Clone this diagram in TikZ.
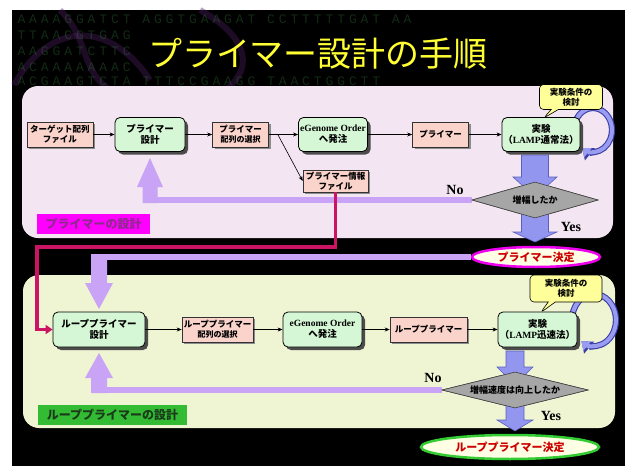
\documentclass[tikz,border=0pt]{standalone}
\usepackage{fontspec}
\setmainfont{Noto Sans CJK JP}
\newfontfamily\lat{Liberation Serif}
\newfontfamily\mono[LetterSpace=30]{Liberation Mono}
\usetikzlibrary{shapes.geometric,shapes.callouts,shadows,arrows.meta,calc}
\definecolor{panelA}{HTML}{F3E5F1}
\definecolor{panelB}{HTML}{EFF5D3}
\definecolor{mint}{HTML}{D6F7D6}
\definecolor{pinkbox}{HTML}{FAD3CB}
\definecolor{calloutY}{HTML}{FFFF99}
\definecolor{loopdark}{HTML}{3A3FA8}
\definecolor{loopfill}{HTML}{9A9CF2}
\definecolor{bluefill}{HTML}{9296EE}
\definecolor{blueedge}{HTML}{5A5FC0}
\definecolor{lav}{HTML}{C9A3F5}
\definecolor{crim}{HTML}{CC1464}
\definecolor{magE}{HTML}{EE00EE}
\definecolor{grnE}{HTML}{33CC33}
\definecolor{ellfill}{HTML}{FFFFE6}
\definecolor{redtxt}{HTML}{CC0000}
\definecolor{dnagreen}{HTML}{2E6B34}
\definecolor{swirl}{HTML}{4B2060}
\definecolor{magLbl}{HTML}{FF00FF}
\definecolor{magTxt}{HTML}{8E2A8E}
\definecolor{grnLbl}{HTML}{33BB33}
\definecolor{grnTxt}{HTML}{1A3A1A}
\definecolor{titleY}{HTML}{FFFF33}
\newcommand\barrow[7][]{\draw[#1] ({#2-#4},#3) -- ({#2+#4},#3) -- ({#2+#4},#5) -- ({#2+#6},#5) -- (#2,#7) -- ({#2-#6},#5) -- ({#2-#4},#5) -- cycle;}
\begin{document}
\begin{tikzpicture}[x=1pt,y=-1pt,
 gbox/.style={draw=black, line width=0.8pt, fill=mint, rounded corners=5pt, align=center, inner sep=1pt,
   font=\bfseries\fontsize{9.5}{11}\selectfont,
   drop shadow={shadow xshift=3pt, shadow yshift=-3pt, fill=black!70, opacity=1}},
 pbox/.style={draw=black!80, line width=0.6pt, fill=pinkbox, align=center, inner sep=1pt,
   font=\bfseries\fontsize{8.5}{10}\selectfont,
   drop shadow={shadow xshift=2pt, shadow yshift=-2pt, fill=black!45, opacity=1}},
 arr/.style={line width=0.6pt, draw=black, -{Stealth[length=5pt,width=4pt]}},
 dia/.style={diamond, aspect=4, draw=black!75, line width=0.6pt, fill=black!35, inner sep=0pt,
   font=\bfseries\fontsize{9}{10}\selectfont},
 ell/.style={ellipse, fill=ellfill, line width=2.5pt, text=redtxt, inner sep=0pt,
   font=\bfseries\fontsize{11}{12}\selectfont},
 callo/.style={rectangle callout, draw=black, line width=0.6pt, fill=calloutY, rounded corners=4pt,
   align=center, inner sep=1pt, font=\bfseries\fontsize{8.5}{10}\selectfont},
 lavline/.style={draw=lav, line width=6pt},
 lavfill/.style={fill=lav, draw=none},
 bluearr/.style={fill=bluefill, draw=blueedge, line width=0.6pt},
 crimline/.style={draw=crim, line width=3.5pt, -{Triangle[length=7pt,width=9pt]}},
 loopout/.style={line width=6.2pt, draw=loopdark, -{Triangle[length=10pt,width=15pt]}},
 loopin/.style={line width=4pt, draw=loopfill, -{Triangle[length=7.5pt,width=11.5pt]}},
 yn/.style={font=\lat\bfseries\fontsize{14}{15}\selectfont, text=black},
 dna/.style={anchor=west, font=\mono\fontsize{13}{14}\selectfont, text=dnagreen, opacity=0.4},
 swirlline/.style={draw=swirl, line width=6pt, opacity=0.4}
]
\useasboundingbox (0,0) rectangle (625,466);
\fill[white] (0,0) rectangle (625,466);
\fill[black] (12,10) rectangle (625,466);
% background decoration
\draw[swirlline] (14,85) .. controls (50,20) and (110,20) .. (150,80);
\draw[swirlline] (60,10) .. controls (90,40) and (80,70) .. (110,90);
\draw[swirlline] (200,10) .. controls (245,35) and (255,65) .. (228,88);
\node[dna] (dna1) at (14,19) {AAAAGGATCT AGGTGAAGAT CCTTTTTGAT AA};
\node[dna] (dna2) at (14,35) {TTAACGTGAG};
\node[dna] (dna3) at (14,51) {AAGGATCTTC};
\node[dna] (dna4) at (14,67) {ACAAAAAAAC};
\node[dna] (dna5) at (14,81) {ACGAAGTCTA TTTCCGAAGG TAACTGGCTT};
% title
\node[text=titleY, font=\fontsize{34}{36}\selectfont] (title) at (318,54) {プライマー設計の手順};
% panels
\fill[panelA, rounded corners=16pt] (22,86) rectangle (613,238);
\fill[panelB, rounded corners=16pt] (23,275) rectangle (615,428);

% ---------- top section ----------
\node[pbox, minimum width=66, minimum height=25] (t1) at (60,134.5) {ターゲット配列\\ファイル};
\node[gbox, minimum width=70, minimum height=34] (p2) at (150,134.5) {プライマー\\設計};
\node[pbox, minimum width=56, minimum height=25] (s1) at (240.5,134.5) {プライマー\\{\fontsize{8}{9}\selectfont 配列の選択}};
\node[gbox, minimum width=69, minimum height=34] (g1) at (333,134.5) {{\lat\bfseries eGenome Order}\\へ発注};
\node[pbox, minimum width=56, minimum height=25] (r1) at (440.5,134.5) {プライマー};
\node[pbox, minimum width=65, minimum height=22] (f1) at (335.5,181) {プライマー情報\\ファイル};

% lavender feedback (top)
\node[dia, minimum width=126, minimum height=36] (d1) at (535,200) {\phantom{増}};
\draw[lavline] (d1.west) -- (d1.west -| p2.south);
\barrow[lavfill]{150}{203}{7.5}{187}{13}{158}

% blue block arrows (top)
\barrow[bluearr]{535}{155}{13.5}{177}{22}{197}
\barrow[bluearr]{535}{212}{13.5}{232}{22}{242}
\node[dia, minimum width=126, minimum height=36] (d1b) at (535,200) {増幅したか};

% loop (top)
\draw[loopout] (593,130) ++(-170:19 and 22) arc[start angle=-170, end angle=125, x radius=19, y radius=22];
\draw[loopin] (593,130) ++(-170:19 and 22) arc[start angle=-170, end angle=125, x radius=19, y radius=22];
\node[gbox, minimum width=78, minimum height=34] (x1) at (541,134.5) {実験\\（{\lat\bfseries LAMP}通常法）};
\node[callo, minimum width=63, minimum height=25, callout absolute pointer={($(x1.north west)+(42,1)$)}] (c1) at (571,97) {実験条件の\\検討};

% arrows (top)
\draw[arr] (t1.east) -- (p2.west);
\draw[arr] (p2.east) -- (s1.west);
\draw[arr] (s1.east) -- (g1.west);
\coordinate (br) at ($(s1.east)+(9,0)$);
\draw[arr] (br) -- (f1.west);
\draw[arr] (g1.east) -- (r1.west);
\draw[arr] (r1.east) -- (x1.west);

\node[yn] (no1) at (455,190) {No};
\node[yn] (yes1) at (571,227) {Yes};
\node[fill=magLbl, text=magTxt, minimum width=113, minimum height=20, inner sep=0pt,
  font=\bfseries\fontsize{12}{13}\selectfont] (l1) at (93.5,224) {プライマーの設計};

% decision ellipse (top)
\node[ell, draw=magE, minimum width=128, minimum height=20] (e1) at (536,257) {プライマー決定};

% ---------- bottom section ----------
\node[gbox, minimum width=92, minimum height=35] (q1) at (99,329.5) {ループプライマー\\設計};
\node[pbox, minimum width=71, minimum height=25] (s2) at (217.5,329.5) {ループプライマー\\{\fontsize{8}{9}\selectfont 配列の選択}};
\node[gbox, minimum width=79, minimum height=35] (g2) at (322.5,329.5) {{\lat\bfseries eGenome Order}\\へ発注};
\node[pbox, minimum width=77, minimum height=25] (r2) at (428.5,329.5) {ループプライマー};

% lavender lines to loop primer design
\draw[lavline] (e1.west) -- (e1.west -| q1.north);
\barrow[lavfill]{99}{254}{8}{283}{14}{309}
\node[dia, minimum width=146, minimum height=36] (d2) at (515,390) {\phantom{増}};
\draw[lavline] (d2.west) -- (d2.west -| q1.south);
\barrow[lavfill]{99}{393}{8}{378}{14}{353}

% crimson link
\coordinate (ck) at (37,247);
\draw[crimline] (f1.south) |- (ck) |- (q1.west);

% blue block arrows (bottom)
\barrow[bluearr]{515}{351}{9}{367}{18}{385}
\barrow[bluearr]{515}{405}{9}{420}{18}{431}
\node[dia, minimum width=146, minimum height=36] (d2b) at (515,390) {増幅速度は向上したか};

% loop (bottom)
\draw[loopout] (594,320) ++(-170:22 and 26) arc[start angle=-170, end angle=125, x radius=22, y radius=26];
\draw[loopin] (594,320) ++(-170:22 and 26) arc[start angle=-170, end angle=125, x radius=22, y radius=26];
\node[gbox, minimum width=79, minimum height=35] (x2) at (537.5,329.5) {実験\\（{\lat\bfseries LAMP}迅速法）};
\node[callo, minimum width=72, minimum height=27, callout absolute pointer={($(x2.north west)+(43,1)$)}] (c2) at (566,288.5) {実験条件の\\検討};

\draw[arr] (q1.east) -- (s2.west);
\draw[arr] (s2.east) -- (g2.west);
\draw[arr] (g2.east) -- (r2.west);
\draw[arr] (r2.east) -- (x2.west);

\node[yn] (no2) at (433,378) {No};
\node[yn] (yes2) at (551,416) {Yes};
\node[fill=grnLbl, text=grnTxt, minimum width=149, minimum height=20, inner sep=0pt,
  font=\bfseries\fontsize{12}{13}\selectfont] (l2) at (112.5,415) {ループプライマーの設計};

\node[ell, draw=grnE, minimum width=178, minimum height=24] (e2) at (510,447) {ループプライマー決定};
\end{tikzpicture}
\end{document}
